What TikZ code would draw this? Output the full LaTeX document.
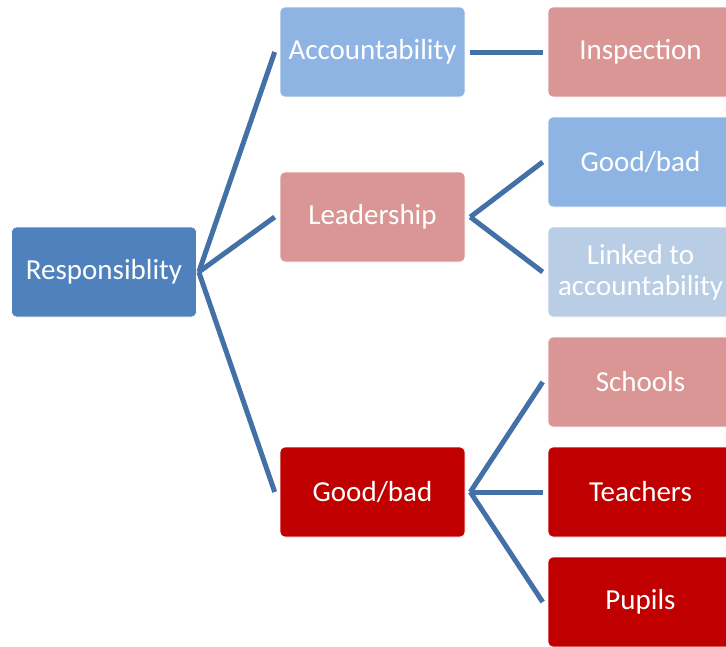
\documentclass[tikz,border=0pt]{standalone}
\usepackage{fontspec}
\setmainfont{Carlito}
\definecolor{cDark}{HTML}{4F81BD}
\definecolor{cLight}{HTML}{8EB4E3}
\definecolor{cPale}{HTML}{B9CDE5}
\definecolor{cPink}{HTML}{D99694}
\definecolor{cRed}{HTML}{C00000}
\definecolor{cLine}{HTML}{4470A8}
\begin{document}
\begin{tikzpicture}[x=1pt,y=-1pt,
  box/.style={rounded corners=5pt, minimum width=185pt, minimum height=90pt, inner sep=0pt,
    text=white, font=\fontsize{29}{31}\selectfont, align=center, draw=white, line width=0.6pt},
  conn/.style={draw=cLine, line width=5pt}]
\useasboundingbox (0,0) rectangle (726,646);
\clip (0,0) rectangle (726,646);
\node[box, fill=cDark] (resp) at (104,272) {Responsiblity};
\node[box, fill=cLight] (acc) at (372.5,52) {Accountability};
\node[box, fill=cPink] (lead) at (372.5,217) {Leadership};
\node[box, fill=cRed] (gb) at (372.5,492) {Good/bad};
\node[box, fill=cPink] (insp) at (640.5,52) {Inspection};
\node[box, fill=cLight] (gb2) at (640.5,162) {Good/bad};
\node[box, fill=cPale] (link) at (640.5,272) {Linked to\\accountability};
\node[box, fill=cPink] (sch) at (640.5,382) {Schools};
\node[box, fill=cRed] (tea) at (640.5,492) {Teachers};
\node[box, fill=cRed] (pup) at (640.5,602) {Pupils};
\path[conn] ([xshift=2pt]resp.east) -- ([xshift=-5pt]acc.west);
\path[conn] ([xshift=2pt]resp.east) -- ([xshift=-5pt]lead.west);
\path[conn] ([xshift=2pt]resp.east) -- ([xshift=-5pt]gb.west);
\path[conn] ([xshift=5pt]acc.east) -- ([xshift=-5pt]insp.west);
\path[conn] ([xshift=5pt]lead.east) -- ([xshift=-5pt]gb2.west);
\path[conn] ([xshift=5pt]lead.east) -- ([xshift=-5pt]link.west);
\path[conn] ([xshift=5pt]gb.east) -- ([xshift=-5pt]sch.west);
\path[conn] ([xshift=5pt]gb.east) -- ([xshift=-5pt]tea.west);
\path[conn] ([xshift=5pt]gb.east) -- ([xshift=-5pt]pup.west);
\end{tikzpicture}
\end{document}
